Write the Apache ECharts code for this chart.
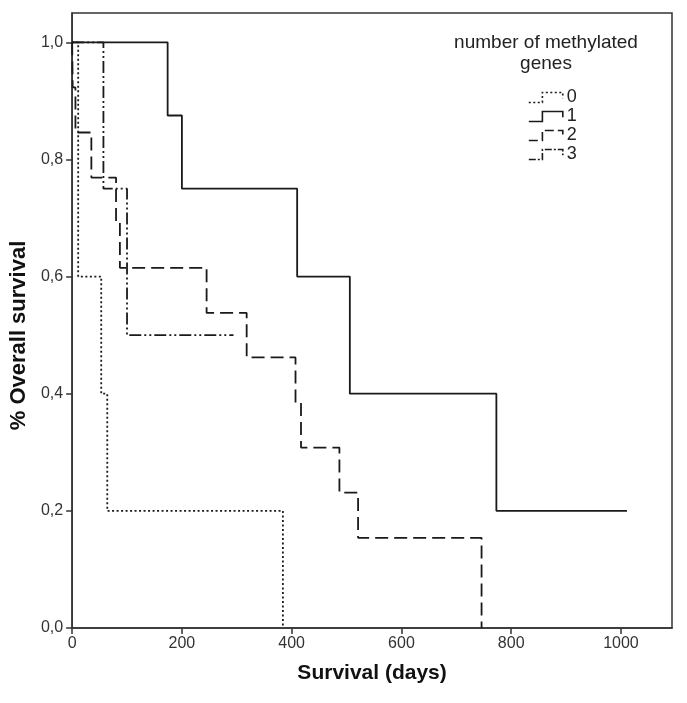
<!DOCTYPE html>
<html>
<head>
<meta charset="utf-8">
<script src="https://cdn.jsdelivr.net/npm/echarts@6/dist/echarts.min.js"></script>
<style>
  html, body { margin: 0; padding: 0; background: #fff; }
  #chart { width: 687px; height: 703px; }
</style>
</head>
<body>
<div id="chart"></div>
<script>
// Kaplan-Meier steps: days and survival after each step
const group0Days = [0, 11, 53, 64, 384];
const group0Surv = [1, 0.6, 0.4, 0.2, 0];

const group1Days = [0, 174, 200, 410, 506, 773, 1011];
const group1Surv = [1, 0.875, 0.75, 0.6, 0.4, 0.2, 0.2];

const group2Days = [0, 1, 6, 35, 80, 87, 245, 318, 407, 417, 487, 521, 746];
const group2Surv = [1, 0.923, 0.846, 0.769, 0.692, 0.615, 0.538, 0.462, 0.385, 0.308, 0.231, 0.154, 0];

const group3Days = [0, 57, 100, 294];
const group3Surv = [1, 0.75, 0.5, 0.5];

const xTicks = [0, 200, 400, 600, 800, 1000];
const yTicks = [0, 0.2, 0.4, 0.6, 0.8, 1.0];

const lineColor = '#1a1a1a';
const font = 'Liberation Sans, Arial, sans-serif';

// step shaped legend icon, like the SPSS one
const stepIcon = 'path://M0,14 L12,14 L12,2 L30,2 L30,9';

const pairs = (days, surv) => days.map((d, i) => [d, surv[i]]);

const chart = echarts.init(document.getElementById('chart'), null, { renderer: 'canvas' });

const makeSeries = (name, days, surv, type) => ({
  name: name,
  type: 'line',
  step: 'end',
  symbol: 'none',
  data: pairs(days, surv),
  lineStyle: { color: lineColor, width: 1.8, type: type },
  itemStyle: { color: lineColor },
  emphasis: { disabled: true },
  animation: false,
});

const legendItem = (name, type) => ({
  name: name,
  icon: stepIcon,
  itemStyle: { color: 'transparent', borderColor: lineColor, borderWidth: 1.6, borderType: type },
});

const option = {
  backgroundColor: '#fff',
  animation: false,
  grid: {
    left: 71,
    right: 15,
    top: 13,
    bottom: 75,
    show: true,
    borderColor: '#333',
    borderWidth: 1.5,
    containLabel: false,
  },
  graphic: [
    {
      type: 'text',
      x: 546,
      y: 32,
      style: {
        text: 'number of methylated\ngenes',
        textAlign: 'center',
        font: '19px ' + font,
        fill: '#222',
        lineHeight: 21,
      },
    },
  ],
  legend: {
    orient: 'vertical',
    left: 523,
    top: 83,
    itemWidth: 34,
    itemHeight: 10,
    itemGap: 0,
    symbolKeepAspect: false,
    selectedMode: false,
    textStyle: { fontFamily: font, fontSize: 18, lineHeight: 19, color: '#222', padding: [0, 0, 0, -1] },
    data: [
      legendItem('0', [2, 2.5]),
      legendItem('1', 'solid'),
      legendItem('2', [9, 4]),
      legendItem('3', [7, 2, 2, 2]),
    ],
  },
  xAxis: {
    type: 'value',
    min: 0,
    max: 1093,
    interval: 200,
    name: 'Survival (days)',
    nameLocation: 'middle',
    nameGap: 35,
    nameTextStyle: { fontFamily: font, fontSize: 21, fontWeight: 'bold', color: '#111' },
    axisLine: { show: true, lineStyle: { color: '#333', width: 1.5 } },
    axisTick: { show: true, length: 6, customValues: xTicks, lineStyle: { color: '#333', width: 1.5 } },
    axisLabel: {
      customValues: xTicks,
      margin: 8,
      fontFamily: font,
      fontSize: 16,
      color: '#333',
      formatter: (v) => String(v),
    },
    splitLine: { show: false },
  },
  yAxis: {
    type: 'value',
    min: 0,
    max: 1.05,
    interval: 0.2,
    name: '% Overall survival',
    nameLocation: 'middle',
    nameGap: 42,
    nameRotate: 90,
    nameTextStyle: {
      fontFamily: font,
      fontSize: 22,
      fontWeight: 'bold',
      color: '#111',
      padding: [0, 30, 0, 0],
    },
    axisLine: { show: true, lineStyle: { color: '#333', width: 1.5 } },
    axisTick: { show: true, length: 6, customValues: yTicks, lineStyle: { color: '#333', width: 1.5 } },
    axisLabel: {
      customValues: yTicks,
      margin: 9,
      fontFamily: font,
      fontSize: 16,
      color: '#333',
      formatter: (v) => v.toFixed(1).replace('.', ','),
    },
    splitLine: { show: false },
  },
  series: [
    makeSeries('0', group0Days, group0Surv, [2, 2.5]),
    makeSeries('1', group1Days, group1Surv, 'solid'),
    makeSeries('2', group2Days, group2Surv, [13, 6]),
    makeSeries('3', group3Days, group3Surv, [12, 3, 2, 3, 2, 3]),
  ],
};

chart.setOption(option);
</script>
</body>
</html>
